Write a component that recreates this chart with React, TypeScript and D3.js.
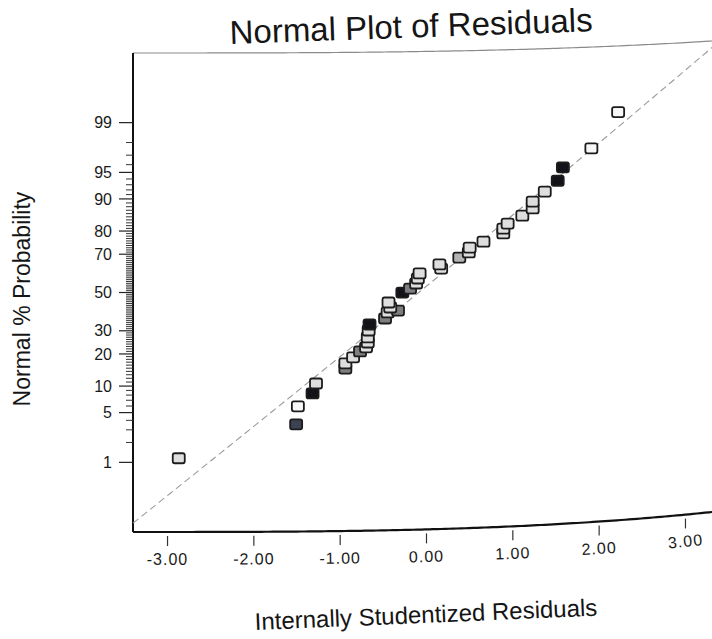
import React from 'react';
import * as d3 from 'd3';

// ---------- data ----------
const residuals = [
  -2.87, -1.51, -1.49, -1.32, -1.28, -0.94, -0.94, -0.85, -0.77, -0.7, -0.68,
  -0.68, -0.67, -0.66, -0.48, -0.45, -0.33, -0.42, -0.44, -0.28, -0.19, -0.12,
  -0.1, -0.08, 0.17, 0.15, 0.38, 0.49, 0.5, 0.66, 0.89, 0.89, 0.94, 1.11, 1.23,
  1.23, 1.37, 1.52, 1.58, 1.91, 2.22,
];
const probabilities = [
  1.16, 3.51, 5.88, 8.24, 10.5, 14.6, 16.3, 18.4, 20.6, 22.2, 24.2, 26.4, 29.6,
  32.5, 35.4, 38.5, 39.4, 41.1, 43.8, 49.1, 51.2, 53.9, 56.6, 59.3, 61.6, 63.8,
  67.0, 69.4, 71.7, 74.2, 77.5, 79.4, 81.3, 83.9, 86.1, 88.1, 90.5, 92.7, 94.9,
  97.0, 99.1,
];
const shades = [
  'light', 'dark', 'white', 'black', 'light', 'gray', 'light', 'light', 'gray',
  'light', 'light', 'light', 'light', 'black', 'gray', 'light', 'gray', 'light',
  'light', 'black', 'gray', 'light', 'light', 'light', 'light', 'light', 'mid',
  'light', 'light', 'light', 'light', 'light', 'light', 'light', 'light',
  'light', 'light', 'black', 'black', 'white', 'white',
];
// reference line: two points (residual, % probability)
const refLineResiduals = [-3.343, 2.323];
const refLineProbabilities = [0.095, 98.8];

const xTicks = [-3, -2, -1, 0, 1, 2, 3];
const xTickLabels = ['-3.00', '-2.00', '-1.00', '0.00', '1.00', '2.00', '3.00'];
const yMajorTicks = [1, 5, 10, 20, 30, 50, 70, 80, 90, 95, 99];

const titleText = 'Normal Plot of Residuals';
const xTitle = 'Internally Studentized Residuals';
const yTitle = 'Normal % Probability';

// ---------- helpers ----------
function probit(p: number): number {
  const a = [-3.969683028665376e1, 2.209460984245205e2, -2.759285104469687e2, 1.38357751867269e2, -3.066479806614716e1, 2.506628277459239];
  const b = [-5.447609879822406e1, 1.615858368580409e2, -1.556989798598866e2, 6.680131188771972e1, -1.328068155288572e1];
  const c = [-7.784894002430293e-3, -3.223964580411365e-1, -2.400758277161838, -2.549732539343734, 4.374664141464968, 2.938163982698783];
  const d = [7.784695709041462e-3, 3.224671290700398e-1, 2.445134137142996, 3.754408661907416];
  const pl = 0.02425;
  if (p < pl) {
    const q = Math.sqrt(-2 * Math.log(p));
    return (((((c[0] * q + c[1]) * q + c[2]) * q + c[3]) * q + c[4]) * q + c[5]) /
      ((((d[0] * q + d[1]) * q + d[2]) * q + d[3]) * q + 1);
  }
  if (p <= 1 - pl) {
    const q = p - 0.5;
    const r = q * q;
    return ((((((a[0] * r + a[1]) * r + a[2]) * r + a[3]) * r + a[4]) * r + a[5]) * q) /
      (((((b[0] * r + b[1]) * r + b[2]) * r + b[3]) * r + b[4]) * r + 1);
  }
  const q = Math.sqrt(-2 * Math.log(1 - p));
  return -(((((c[0] * q + c[1]) * q + c[2]) * q + c[3]) * q + c[4]) * q + c[5]) /
    ((((d[0] * q + d[1]) * q + d[2]) * q + d[3]) * q + 1);
}

const W = 712;
const H = 639;
const L = 133;
const R = 720;
const T = 53;
const B = 532;

const xScale = d3.scaleLinear().domain([-3.4, 3.4]).range([L, R]);
const zScale = d3.scaleLinear().domain([-3.28, 3.28]).range([B, T]);
const yOf = (pct: number) => zScale(probit(pct / 100));

// page curl of the photographed sheet
function warp(x: number, y: number): [number, number] {
  const t = Math.max(0, (x - L) / 579);
  const S = 12 + (8 * (y - T)) / (B - T);
  return [x, y - S * t * t * t];
}
function slopeDeg(x: number, y: number): number {
  const a = warp(x - 2, y);
  const b = warp(x + 2, y);
  return (Math.atan2(b[1] - a[1], 4) * 180) / Math.PI;
}
function warpedPath(pts: [number, number][]): string {
  return d3.line()(pts.map(([x, y]) => warp(x, y))) || '';
}
function hLine(y: number, x0: number, x1: number): string {
  const pts: [number, number][] = d3.range(x0, x1 + 0.1, 4).map((x) => [x, y]);
  return warpedPath(pts);
}

const fills: Record<string, string> = {
  white: '#f7f7f7',
  light: '#dedede',
  mid: '#b4b4b4',
  gray: '#7e7e82',
  dark: '#3c4154',
  black: '#121218',
};

const FONT = '"Liberation Sans", Arial, Helvetica, sans-serif';

export default function App() {
  // reference line in (residual, z) space, extended to the plot frame
  const z0 = probit(refLineProbabilities[0] / 100);
  const z1 = probit(refLineProbabilities[1] / 100);
  const k = (z1 - z0) / (refLineResiduals[1] - refLineResiduals[0]);
  const zAt = (r: number) => z0 + k * (r - refLineResiduals[0]);
  const rStart = -3.4;
  const rEnd = refLineResiduals[0] + (3.28 - z0) / k;
  const refPts: [number, number][] = d3
    .range(0, 81)
    .map((i) => rStart + ((rEnd - rStart) * i) / 80)
    .map((r) => [xScale(r), zScale(zAt(r))]);

  const minorTicks = d3.range(2, 99).filter((v) => !yMajorTicks.includes(v));

  const titleStart = warp(230, 44);

  return (
    <div style={{ position: 'absolute', left: 0, top: 0, width: W, height: H, background: '#fff' }}>
      <svg width={W} height={H} viewBox={`0 0 ${W} ${H}`} style={{ display: 'block' }} fontFamily={FONT}>
        <rect x={0} y={0} width={W} height={H} fill="#ffffff" />

        {/* title */}
        <text
          x={titleStart[0]}
          y={titleStart[1]}
          fontSize={33}
          fill="#151515"
          transform={`rotate(-2, ${titleStart[0]}, ${titleStart[1]})`}
        >
          {titleText}
        </text>

        {/* frame */}
        <path d={hLine(T, L, R)} fill="none" stroke="#8a8a8a" strokeWidth={1.2} />
        <line x1={L} y1={T} x2={L} y2={B} stroke="#111" strokeWidth={2} />
        <path d={hLine(B, L, R)} fill="none" stroke="#111" strokeWidth={2.2} />

        {/* y minor ticks */}
        {minorTicks.map((v) => (
          <line key={`m${v}`} x1={L - 7} x2={L} y1={yOf(v)} y2={yOf(v)} stroke="#333" strokeWidth={1} />
        ))}
        {/* y major ticks + labels */}
        {yMajorTicks.map((v) => (
          <g key={`M${v}`}>
            <line x1={L - 14} x2={L} y1={yOf(v)} y2={yOf(v)} stroke="#222" strokeWidth={1.2} />
            <text x={L - 21} y={yOf(v)} dy="0.35em" textAnchor="end" fontSize={16} fill="#1a1a1a">
              {v}
            </text>
          </g>
        ))}

        {/* x ticks + labels */}
        {xTicks.map((v, i) => {
          const px = xScale(v);
          const a = warp(px, B + 4);
          const b = warp(px, B + 14);
          const lp = warp(px, 559);
          const ang = slopeDeg(px, 559);
          return (
            <g key={`x${v}`}>
              <line x1={a[0]} y1={a[1]} x2={b[0]} y2={b[1]} stroke="#333" strokeWidth={1.2} />
              <text
                x={lp[0]}
                y={lp[1]}
                dy="0.35em"
                textAnchor="middle"
                fontSize={16}
                letterSpacing={1}
                fill="#1a1a1a"
                transform={`rotate(${ang.toFixed(2)}, ${lp[0]}, ${lp[1]})`}
              >
                {xTickLabels[i]}
              </text>
            </g>
          );
        })}

        {/* reference line */}
        <path d={warpedPath(refPts)} fill="none" stroke="#9a9a9a" strokeWidth={1.1} strokeDasharray="7,4" />

        {/* points */}
        {residuals.map((r, i) => {
          const [cx, cy] = warp(xScale(r), yOf(probabilities[i]));
          return (
            <rect
              key={`p${i}`}
              x={cx - 6}
              y={cy - 5}
              width={12}
              height={10}
              rx={2}
              fill={fills[shades[i]]}
              stroke="#1c1c1c"
              strokeWidth={1.8}
            />
          );
        })}

        {/* axis titles */}
        <text
          x={255}
          y={630}
          fontSize={24}
          fill="#151515"
          transform="rotate(-2.4, 255, 630)"
        >
          {xTitle}
        </text>
        <text
          x={0}
          y={0}
          fontSize={23}
          fill="#151515"
          textAnchor="middle"
          transform="translate(30, 299) rotate(-90)"
        >
          {yTitle}
        </text>
      </svg>
    </div>
  );
}
